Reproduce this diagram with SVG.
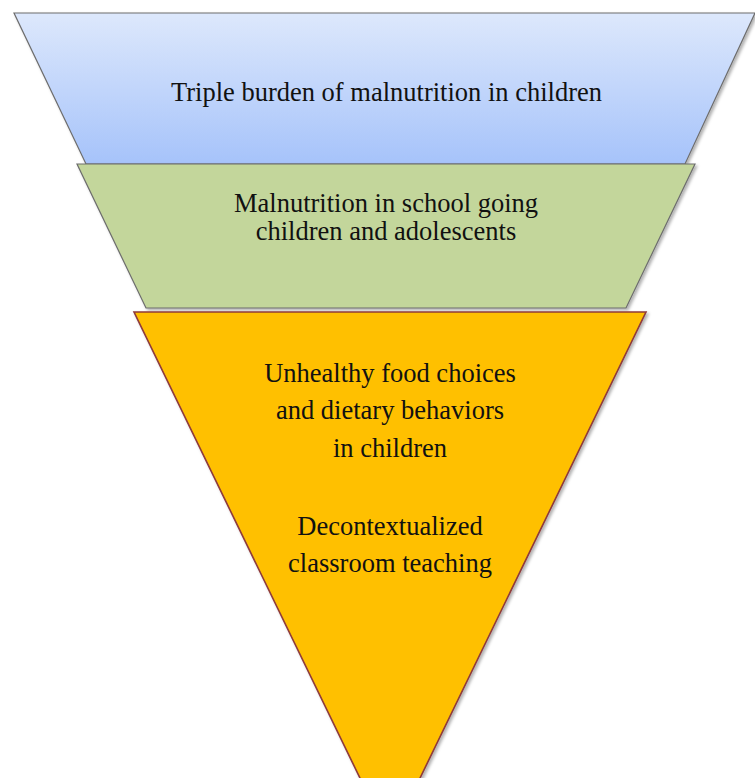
<svg xmlns="http://www.w3.org/2000/svg" width="755" height="778" viewBox="0 0 755 778">
  <style>
    .label { font-family: "Liberation Serif", "Times New Roman", serif; font-size: 26.5px; fill: #111; text-anchor: middle; }
    .edge { stroke: #6d6d6d; stroke-width: 1.2; stroke-linejoin: miter; }
  </style>
  <defs>
    <linearGradient id="blueFill" x1="0" y1="0" x2="0" y2="1">
      <stop offset="0" stop-color="#dde8fc"/>
      <stop offset="1" stop-color="#a6c3fa"/>
    </linearGradient>
    <filter id="shadow" x="-10%" y="-10%" width="120%" height="120%">
      <feDropShadow dx="2" dy="2" stdDeviation="1.5" flood-color="#000" flood-opacity="0.3"/>
    </filter>
  </defs>

  <!-- top tier -->
  <g id="tier-top">
    <polygon class="edge" points="14,13 755,13 685,164 86,164" fill="url(#blueFill)" filter="url(#shadow)"/>
    <text class="label" x="386.5" y="101">Triple burden of malnutrition in children</text>
  </g>

  <!-- middle tier -->
  <g id="tier-middle">
    <polygon class="edge" points="77,164 695,164 626,308 146,308" fill="#c3d69b" filter="url(#shadow)"/>
    <text class="label" x="386" y="212">Malnutrition in school going</text>
    <text class="label" x="386" y="240">children and adolescents</text>
  </g>

  <!-- bottom tier -->
  <g id="tier-bottom">
    <polygon points="134,312 646,312 390,840" fill="#ffc000" stroke="#8e3a3a" stroke-width="1.6" filter="url(#shadow)"/>
    <text class="label" x="390" y="382">Unhealthy food choices</text>
    <text class="label" x="390" y="419">and dietary behaviors</text>
    <text class="label" x="390" y="457">in children</text>
    <text class="label" x="390" y="535">Decontextualized</text>
    <text class="label" x="390" y="572">classroom teaching</text>
  </g>

  <g id="connectors"></g>
</svg>
